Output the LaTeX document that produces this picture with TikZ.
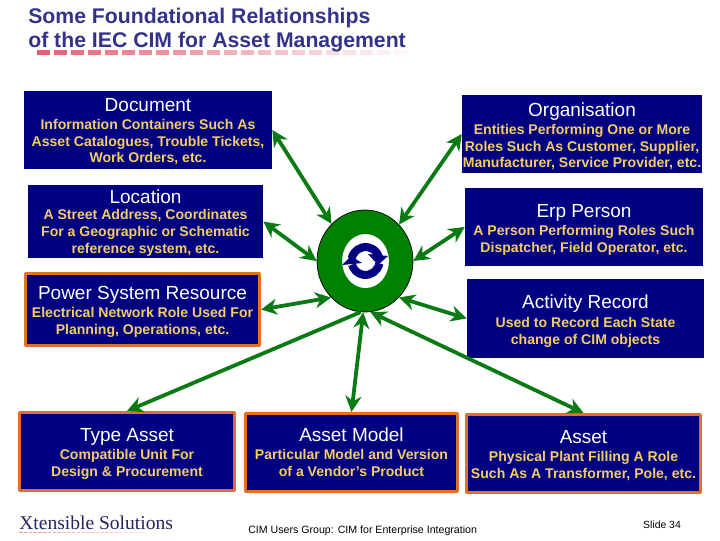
\documentclass[tikz,border=0pt]{standalone}
\usepackage{fontspec}
\setmainfont{Liberation Sans}
\newfontfamily\logofont{Liberation Serif}
\usetikzlibrary{arrows.meta,shapes.geometric}
\definecolor{boxnavy}{RGB}{0,0,128}
\definecolor{boxorange}{RGB}{226,112,44}
\definecolor{subyellow}{RGB}{244,204,102}
\definecolor{hubgreen}{RGB}{0,128,0}
\definecolor{linkgreen}{RGB}{10,122,20}
\definecolor{titleblue}{RGB}{51,51,136}
\definecolor{dashpink}{RGB}{232,96,116}
\newcommand{\boxhead}[2][13pt]{{\fontsize{13.5}{12}\selectfont\mdseries\color{white}\rule{0pt}{#1}#2}}
\tikzset{
  plainbox/.style={rectangle,fill=boxnavy,draw=none,inner sep=0pt,align=center,
    text=subyellow,font=\fontsize{10}{12}\selectfont\bfseries},
  edgedbox/.style={plainbox,draw=boxorange,line width=0.075cm},
  link/.style={draw=linkgreen,line width=0.095cm,{Stealth[length=0.4cm,width=0.4cm]}-{Stealth[length=0.4cm,width=0.4cm]}},
  onelink/.style={draw=linkgreen,line width=0.095cm,-{Stealth[length=0.4cm,width=0.4cm]}},
  turn/.style={draw=boxnavy,line width=0.2cm}
}
\begin{document}
\begin{tikzpicture}[x=0.025cm,y=-0.025cm,line join=round]
\useasboundingbox (0,0) rectangle (720,540);
% title and its fading underline
\foreach \i in {0,...,21}{
  \pgfmathsetmacro{\pct}{100-4.5*\i}
  \fill[dashpink!\pct!white] ({37+17*\i},49.5) rectangle ++(13,5);
}
\node[anchor=north west,inner sep=0pt,align=left,text=titleblue,font=\fontsize{15.1}{17}\selectfont\bfseries] (title) at (28,8) {Some Foundational Relationships\\of the IEC CIM for Asset Management};
% left column
\node[plainbox,minimum width=6.2cm,minimum height=1.95cm] (document) at (148,130) {\boxhead[11.5pt]{Document}\\[0.8pt]Information Containers Such As\\Asset Catalogues, Trouble Tickets,\\Work Orders, etc.};
\node[plainbox,minimum width=5.875cm,minimum height=1.825cm] (location) at (145.5,221.5) {\boxhead[11.5pt]{Location}\\[-0.4pt]A Street Address, Coordinates\\For a Geographic or Schematic\\reference system, etc.};
\node[edgedbox,minimum width=5.85cm,minimum height=1.8cm] (powerres) at (142.5,309.5) {\boxhead{Power System Resource}\\[0.8pt]Electrical Network Role Used For\\Planning, Operations, etc.};
% right column
\node[plainbox,minimum width=6cm,minimum height=1.95cm] (organisation) at (582,134) {\boxhead{Organisation}\\[0.8pt]Entities Performing One or More\\Roles Such As Customer, Supplier,\\Manufacturer, Service Provider, etc.};
\node[plainbox,minimum width=5.95cm,minimum height=1.95cm] (erpperson) at (584,227) {\boxhead{Erp Person}\\[0.8pt]A Person Performing Roles Such\\Dispatcher, Field Operator, etc.};
\node[plainbox,minimum width=5.925cm,minimum height=1.975cm] (activity) at (585.5,318.5) {\boxhead{Activity Record}\\[1.5pt]Used to Record Each State\\change of CIM objects};
% bottom row
\node[edgedbox,minimum width=5.375cm,minimum height=1.95cm] (typeasset) at (127,451.5) {\boxhead{Type Asset}\\[0.8pt]Compatible Unit For\\Design \& Procurement};
\node[edgedbox,minimum width=5.3cm,minimum height=1.95cm] (assetmodel) at (351.5,452.5) {\boxhead[0pt]{Asset Model}\\[0.8pt]Particular Model and Version\\of a Vendor's Product};
\node[edgedbox,minimum width=5.85cm,minimum height=1.95cm] (asset) at (583.5,453.5) {\boxhead[12.3pt]{Asset}\\[0.8pt]Physical Plant Filling A Role\\Such As A Transformer, Pole, etc.};
% hub
\node[ellipse,draw=black,fill=hubgreen,line width=0.5pt,inner sep=0pt,minimum width=2.4cm,minimum height=2.55cm] (hub) at (365,261) {};
\node[ellipse,fill=white,inner sep=0pt,minimum width=1.17cm,minimum height=1.35cm] (hubcore) at (365.5,261) {};
\draw[turn] (351.7,258.6) arc[start angle=190,end angle=345,radius=14];
\draw[turn] (379.3,263.4) arc[start angle=10,end angle=165,radius=14];
\fill[boxnavy] (368,254) -- (388,256) -- (378,265) -- cycle;
\fill[boxnavy] (342,265) -- (351,256) -- (362,263) -- cycle;
% links
\draw[link] (document.east) -- (hub.132.6);
\draw[link] (organisation.west) -- (hub.47.4);
\draw[link] (location.east) -- (hub.west);
\draw[link] (erpperson.west) -- (hub.east);
\draw[link] (powerres.east) -- (hub.227.5);
\draw[link] (activity.west) -- (hub.313.4);
\draw[onelink] (hub.265) -- (typeasset.north);
\draw[link] (assetmodel.north) -- (hub.268);
\draw[link] (asset.north) -- (hub.276);
% footer
\foreach \i in {0,...,31}{
  \pgfmathsetmacro{\pct}{70-2.2*\i}
  \fill[dashpink!\pct!white] ({19+4.8*\i},531.5) rectangle ++(3.6,1.5);
}
\node[anchor=base west,inner sep=0pt,text=titleblue!70!black,font=\fontsize{13.9}{14}\logofont] (logo) at (19,529) {Xtensible Solutions};
\node[anchor=base west,inner sep=0pt,font=\fontsize{7.55}{8}\selectfont] (footer) at (248,533) {CIM Users Group: CIM for Enterprise Integration};
\node[inner sep=0pt,font=\fontsize{7.4}{8}\selectfont] (slidenum) at (662,525) {Slide 34};
\end{tikzpicture}
\end{document}
